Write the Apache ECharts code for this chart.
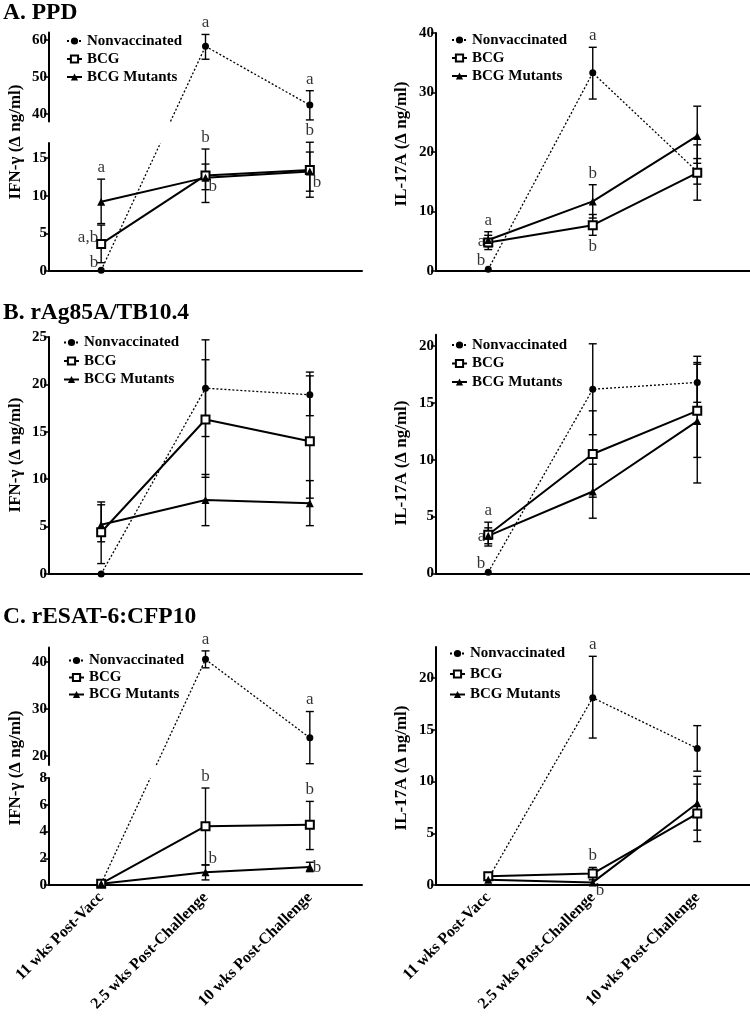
<!DOCTYPE html>
<html>
<head>
<meta charset="utf-8">
<script src="https://cdn.jsdelivr.net/npm/echarts@6/dist/echarts.min.js"></script>
<style>
  html, body { margin: 0; padding: 0; background: #fff; }
  #chart { width: 750px; height: 1026px; }
</style>
</head>
<body>
<div id="chart"></div>
<script>
const categories = ["11 wks Post-Vacc", "2.5 wks Post-Challenge", "10 wks Post-Challenge"];
const groupNames = ["Nonvaccinated", "BCG", "BCG Mutants"];

// each point: [mean, lower error, upper error]
// A. PPD
const ppdIfnNonvacc = [[0.1, null, null], [58.3, 54.8, 61.5], [42.4, 38.4, 46.3]];
const ppdIfnBcg = [[3.6, 1.1, 6.1], [12.7, 9.1, 16.2], [13.4, 9.8, 17.1]];
const ppdIfnMutants = [[9.2, 6.3, 12.2], [12.4, 10.8, 14.2], [13.2, 10.6, 15.8]];
const ppdIlNonvacc = [[0.3, null, null], [33.3, 28.9, 37.6], [16.7, 14.6, 18.9]];
const ppdIlBcg = [[4.8, 3.6, 6.0], [7.7, 6.0, 9.5], [16.5, 11.9, 21.2]];
const ppdIlMutants = [[5.2, 4.1, 6.6], [11.7, 8.9, 14.5], [22.7, 18.1, 27.7]];
// B. rAg85A/TB10.4
const agIfnNonvacc = [[0.0, null, null], [19.6, 14.5, 24.7], [18.9, 16.7, 21.3]];
const agIfnBcg = [[4.4, 1.1, 7.6], [16.3, 10.2, 22.6], [14.0, 8.0, 20.9]];
const agIfnMutants = [[5.2, 3.4, 7.3], [7.8, 5.1, 10.5], [7.45, 5.1, 9.85]];
const agIlNonvacc = [[0.1, null, null], [16.2, 12.2, 20.2], [16.8, 15.05, 18.55]];
const agIlBcg = [[3.4, 2.4, 4.5], [10.5, 6.7, 14.3], [14.3, 10.2, 18.4]];
const agIlMutants = [[3.3, 2.6, 4.0], [7.2, 4.85, 9.6], [13.4, 7.95, 19.1]];
// C. rESAT-6:CFP10
const esIfnNonvacc = [[0.1, null, null], [40.5, 38.7, 42.3], [23.8, 18.3, 29.4]];
const esIfnBcg = [[0.1, null, null], [4.4, 1.5, 7.25], [4.5, 2.65, 6.25]];
const esIfnMutants = [[0.1, null, null], [0.95, 0.38, 1.5], [1.35, 1.0, 1.7]];
const esIlNonvacc = [[0.6, null, null], [18.1, 14.2, 22.1], [13.2, 11.0, 15.4]];
const esIlBcg = [[0.85, 0.5, 1.2], [1.1, 0.5, 1.7], [6.9, 4.2, 9.75]];
const esIlMutants = [[0.5, null, null], [0.25, null, null], [7.9, 5.3, 10.5]];

// tick labels
const ppdIfnTicksHigh = [40, 50, 60];
const ppdIfnTicksLow = [0, 5, 10, 15];
const ppdIlTicks = [0, 10, 20, 30, 40];
const agIfnTicks = [0, 5, 10, 15, 20, 25];
const agIlTicks = [0, 5, 10, 15, 20];
const esIfnTicksHigh = [20, 30, 40];
const esIfnTicksLow = [0, 2, 4, 6, 8];
const esIlTicks = [0, 5, 10, 15, 20];

// significance letters: [time point, value, text, side]
const ppdIfnLetters = [
    [1, 61.5, "a", "top"], [2, 46.3, "a", "top"],
    [1, 16.2, "b", "top"], [2, 17.1, "b", "top"],
    [1, 11.2, "b", "right"], [2, 11.8, "b", "right"],
    [0, 12.2, "a", "top"], [0, 4.4, "a,b", "left"], [0, 1.1, "b", "left"],
];
const ppdIlLetters = [
    [1, 37.6, "a", "top"], [1, 14.5, "b", "top"], [1, 6.0, "b", "bottom"],
    [0, 6.6, "a", "top"], [0, 5.0, "a", "left"], [0, 1.8, "b", "left"],
];
const agIfnLetters = [];
const agIlLetters = [[0, 4.5, "a", "top"], [0, 3.2, "a", "left"], [0, 0.9, "b", "left"]];
const esIfnLetters = [
    [1, 42.3, "a", "top"], [2, 29.4, "a", "top"],
    [1, 7.25, "b", "top"], [2, 6.25, "b", "top"],
    [1, 2.0, "b", "right"], [2, 1.3, "b", "right"],
];
const esIlLetters = [[1, 22.1, "a", "top"], [1, 1.7, "b", "top"], [1, -0.5, "b", "right"]];

const FONT = "Liberation Serif";

const groupStyles = [
    { symbol: "circle", symbolSize: 7, lineStyle: { color: "#000", width: 1.3, type: [2, 2] }, itemStyle: { color: "#000" } },
    { symbol: "emptyRect", symbolSize: 8, lineStyle: { color: "#000", width: 2 }, itemStyle: { color: "#000", borderWidth: 1.3 } },
    { symbol: "triangle", symbolSize: 8, lineStyle: { color: "#000", width: 2 }, itemStyle: { color: "#000" } },
];

const panels = [
    {
        yName: "IFN-γ (Δ ng/ml)", nameX: 16, nameY: 142,
        legend: { left: 66, top: 33.5, itemGap: 3 },
        groups: [ppdIfnNonvacc, ppdIfnBcg, ppdIfnMutants], letters: ppdIfnLetters, xLabels: false,
        axes: [
            { left: 49, top: 32.6, width: 313, height: 88.8, min: 38, max: 62, ticks: ppdIfnTicksHigh, base: false },
            { left: 49, top: 143, width: 313, height: 128, min: 0, max: 17, ticks: ppdIfnTicksLow, base: true },
        ],
    },
    {
        yName: "IL-17A (Δ ng/ml)", nameX: 402, nameY: 144,
        legend: { left: 451, top: 32.5, itemGap: 3 },
        groups: [ppdIlNonvacc, ppdIlBcg, ppdIlMutants], letters: ppdIlLetters, xLabels: false,
        axes: [{ left: 436, top: 33, width: 313.5, height: 238, min: 0, max: 40, ticks: ppdIlTicks, base: true }],
    },
    {
        yName: "IFN-γ (Δ ng/ml)", nameX: 16, nameY: 455,
        legend: { left: 63, top: 335, itemGap: 3.5 },
        groups: [agIfnNonvacc, agIfnBcg, agIfnMutants], letters: agIfnLetters, xLabels: false,
        axes: [{ left: 49, top: 337, width: 313, height: 237, min: 0, max: 25, ticks: agIfnTicks, base: true }],
    },
    {
        yName: "IL-17A (Δ ng/ml)", nameX: 402, nameY: 463,
        legend: { left: 451, top: 337.5, itemGap: 3.5 },
        groups: [agIlNonvacc, agIlBcg, agIlMutants], letters: agIlLetters, xLabels: false,
        axes: [{ left: 436, top: 334.7, width: 313.5, height: 238.6, min: 0, max: 21, ticks: agIlTicks, base: true }],
    },
    {
        yName: "IFN-γ (Δ ng/ml)", nameX: 16, nameY: 768,
        legend: { left: 68, top: 653, itemGap: 2 },
        groups: [esIfnNonvacc, esIfnBcg, esIfnMutants], letters: esIfnLetters, xLabels: true,
        axes: [
            { left: 49, top: 647.6, width: 313, height: 117.5, min: 18, max: 43, ticks: esIfnTicksHigh, base: false },
            { left: 49, top: 778, width: 313, height: 107, min: 0, max: 8, ticks: esIfnTicksLow, base: true },
        ],
    },
    {
        yName: "IL-17A (Δ ng/ml)", nameX: 402, nameY: 768,
        legend: { left: 449, top: 646, itemGap: 5.5 },
        groups: [esIlNonvacc, esIlBcg, esIlMutants], letters: esIlLetters, xLabels: true,
        axes: [{ left: 436, top: 647, width: 313.5, height: 238, min: 0, max: 23, ticks: esIlTicks, base: true }],
    },
];

const titles = [
    { text: "A. PPD", top: 1 },
    { text: "B. rAg85A/TB10.4", top: 301 },
    { text: "C. rESAT-6:CFP10", top: 605 },
];

function renderErrorBar(params, api) {
    const x = api.value(0);
    const lo = api.coord([x, api.value(1)]);
    const hi = api.coord([x, api.value(2)]);
    const w = 4;
    const style = { stroke: "#000", lineWidth: 1.4 };
    return {
        type: "group",
        children: [
            { type: "line", shape: { x1: lo[0], y1: lo[1], x2: hi[0], y2: hi[1] }, style },
            { type: "line", shape: { x1: lo[0] - w, y1: lo[1], x2: lo[0] + w, y2: lo[1] }, style },
            { type: "line", shape: { x1: hi[0] - w, y1: hi[1], x2: hi[0] + w, y2: hi[1] }, style },
        ],
    };
}

function axisIndexFor(panel, value) {
    let best = 0, bestDist = Infinity;
    panel.axes.forEach((ax, j) => {
        const d = value < ax.min ? ax.min - value : value > ax.max ? value - ax.max : 0;
        if (d < bestDist) { bestDist = d; best = j; }
    });
    return best;
}

const axisLineStyle = { color: "#000", width: 2 };
const labelFont = { color: "#000", fontFamily: FONT, fontWeight: "bold" };

const option = {
    animation: false,
    backgroundColor: "#fff",
    title: titles.map((t) => ({
        text: t.text, left: 3, top: t.top, padding: 0,
        textStyle: { fontFamily: FONT, fontWeight: "bold", fontSize: 23.5, color: "#000" },
    })),
    grid: [], xAxis: [], yAxis: [], legend: [], series: [],
};

panels.forEach((panel) => {
    panel.gridIds = panel.axes.map((ax) => {
        const g = option.grid.length;
        option.grid.push({
            left: ax.left, top: ax.top, width: ax.width, height: ax.height,
            containLabel: false, outerBoundsMode: "none",
        });
        option.xAxis.push({
            type: "category", gridIndex: g, data: categories, boundaryGap: true, show: ax.base,
            axisLine: { onZero: false, lineStyle: axisLineStyle },
            axisTick: { alignWithLabel: true, length: 5, lineStyle: { color: "#000", width: 1.5 } },
            axisLabel: { show: panel.xLabels, rotate: 45, interval: 0, margin: 10, fontSize: 16, ...labelFont },
            splitLine: { show: false },
        });
        option.yAxis.push({
            type: "value", gridIndex: g, min: ax.min, max: ax.max,
            axisLine: { show: true, onZero: false, lineStyle: axisLineStyle },
            axisTick: { show: true, length: 5, customValues: ax.ticks, lineStyle: { color: "#000", width: 1.5 } },
            axisLabel: { customValues: ax.ticks, margin: 2, fontSize: 15, ...labelFont },
            splitLine: { show: false },
        });
        return g;
    });

    panel.groups.forEach((values, k) => {
        panel.axes.forEach((ax, j) => {
            const g = panel.gridIds[j];
            const inAxis = (v) => axisIndexFor(panel, v) === j;
            const lineData = values.map((p) => (inAxis(p[0]) ? p[0] : "-"));
            if (lineData.every((v) => v === "-")) return;
            option.series.push({
                type: "line", name: groupNames[k], xAxisIndex: g, yAxisIndex: g,
                data: lineData, clip: false, z: 4, connectNulls: false,
                ...groupStyles[k],
            });
            const errData = values
                .map((p, i) => [i, p[1], p[2], p[0]])
                .filter((d) => d[1] != null && inAxis(d[3]));
            if (errData.length) {
                option.series.push({
                    type: "custom", name: "error", xAxisIndex: g, yAxisIndex: g,
                    data: errData, renderItem: renderErrorBar, clip: false, z: 2,
                });
            }
        });
    });

    panel.axes.forEach((ax, j) => {
        const letters = panel.letters.filter((l) => axisIndexFor(panel, l[1]) === j);
        if (!letters.length) return;
        const g = panel.gridIds[j];
        option.series.push({
            type: "scatter", name: "letters", xAxisIndex: g, yAxisIndex: g,
            symbolSize: 0, clip: false, silent: true, z: 5,
            data: letters.map((l) => ({
                value: [l[0], l[1]],
                label: { position: l[3], formatter: l[2] },
            })),
            label: { show: true, distance: 3, fontFamily: FONT, fontSize: 17, color: "#000" },
        });
    });

    option.legend.push({
        data: groupNames, orient: "vertical", left: panel.legend.left, top: panel.legend.top,
        itemGap: panel.legend.itemGap, itemWidth: 15, itemHeight: 9, padding: 0,
        selectedMode: false,
        textStyle: { fontFamily: FONT, fontWeight: "bold", fontSize: 15, color: "#000" },
    });
});

const chart = echarts.init(document.getElementById("chart"), null, { renderer: "canvas" });
chart.setOption(option);

// y-axis names and the segments that cross an axis break, placed with the chart's own scales
const graphic = panels.map((panel) => ({
    type: "text", x: panel.nameX, y: panel.nameY, rotation: Math.PI / 2,
    style: {
        text: panel.yName, font: "bold 17px \"" + FONT + "\"", fill: "#000",
        textAlign: "center", textVerticalAlign: "middle",
    },
}));

panels.forEach((panel) => {
    if (panel.axes.length < 2) return;
    panel.groups.forEach((values, k) => {
        for (let i = 0; i + 1 < values.length; i++) {
            const ja = axisIndexFor(panel, values[i][0]);
            const jb = axisIndexFor(panel, values[i + 1][0]);
            if (ja === jb) continue;
            const pa = chart.convertToPixel({ gridIndex: panel.gridIds[ja] }, [i, values[i][0]]);
            const pb = chart.convertToPixel({ gridIndex: panel.gridIds[jb] }, [i + 1, values[i + 1][0]]);
            const rising = values[i][0] < values[i + 1][0];
            const edgeA = chart.convertToPixel({ yAxisIndex: panel.gridIds[ja] },
                rising ? panel.axes[ja].max : panel.axes[ja].min);
            const edgeB = chart.convertToPixel({ yAxisIndex: panel.gridIds[jb] },
                rising ? panel.axes[jb].min : panel.axes[jb].max);
            const xAt = (y) => pa[0] + (y - pa[1]) * (pb[0] - pa[0]) / (pb[1] - pa[1]);
            const ls = groupStyles[k].lineStyle;
            const style = {
                stroke: "#000", lineWidth: ls.width,
                lineDash: Array.isArray(ls.type) ? ls.type : null,
            };
            graphic.push(
                { type: "line", z: 3, shape: { x1: pa[0], y1: pa[1], x2: xAt(edgeA), y2: edgeA }, style },
                { type: "line", z: 3, shape: { x1: xAt(edgeB), y1: edgeB, x2: pb[0], y2: pb[1] }, style },
            );
        }
    });
});

chart.setOption({ graphic });
</script>
</body>
</html>
